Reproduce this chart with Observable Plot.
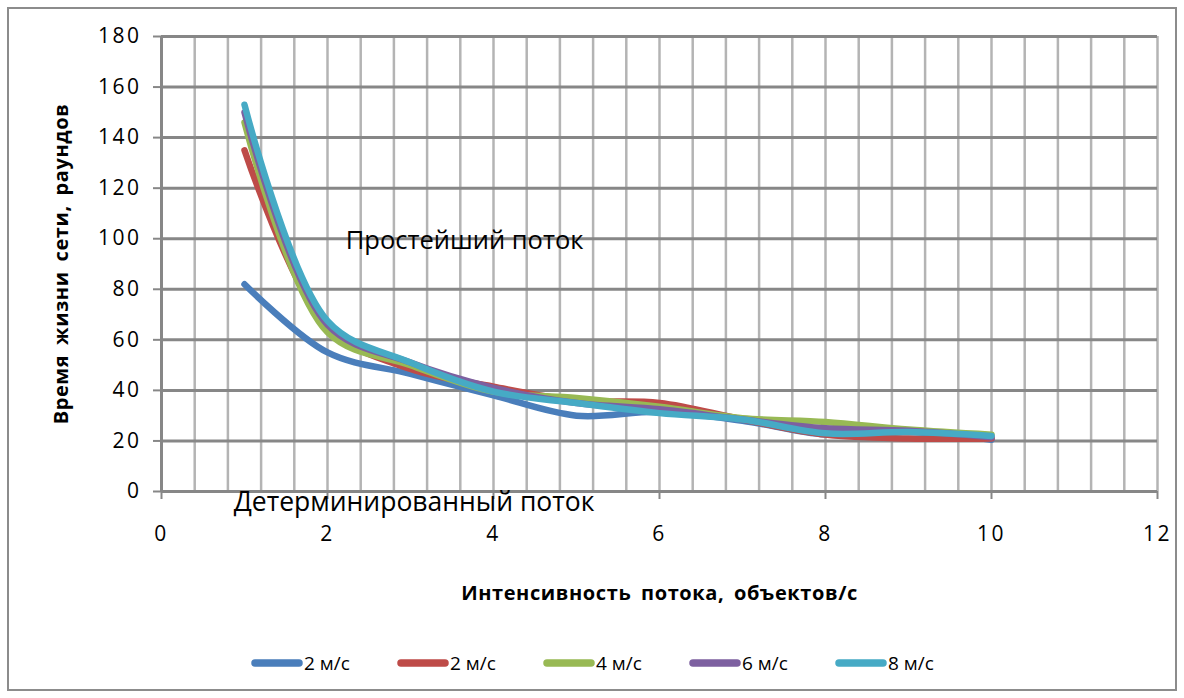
<!DOCTYPE html>
<html><head><meta charset="utf-8">
<script src="https://cdn.jsdelivr.net/npm/d3@7"></script>
<script src="https://cdn.jsdelivr.net/npm/@observablehq/plot@0.6"></script>
<style>
body{margin:0;background:#fff;}
#wrap{position:relative;width:1184px;height:698px;overflow:hidden;background:#fff;font-family:"Open Sans",sans-serif;}
#frame{position:absolute;left:7px;top:7px;width:1170px;height:684px;border:2px solid #8c8c8c;box-sizing:border-box;}
#chart{position:absolute;left:0;top:0;}
#legend{position:absolute;top:650px;left:251px;display:flex;align-items:center;font-size:19px;color:#000;}
.item{display:flex;align-items:center;width:146px;}
.item svg{display:block;margin-right:1px;}
</style></head><body>
<div id="wrap"><div id="frame"></div><div id="chart"></div><div id="legend"></div></div>
<script>
// ---- data ----
const xValues = [1, 2, 3, 4, 5, 6, 7, 8, 9, 10];
const seriesKeys = ["s1", "s2", "s3", "s4", "s5"];
const seriesNames = ["2 м/с", "2 м/с", "4 м/с", "6 м/с", "8 м/с"];
const seriesColors = ["#4a7ebb", "#be4b48", "#98b954", "#7d60a0", "#46aac5"];
const s1 = [82, 55, 46.5, 38, 30, 31.5, 28, 22.5, 23.5, 20.5];
const s2 = [135, 65, 48.5, 41.5, 36, 35, 28.5, 22.5, 21, 21];
const s3 = [146, 63, 50, 39.5, 37, 33.5, 29, 27.5, 24.5, 22.5];
const s4 = [150, 66, 51, 41, 35, 32.5, 28.5, 25, 24, 21.5];
const s5 = [153, 67.5, 51, 39.5, 35, 31, 28.5, 23, 23.5, 22];
const xTicks = [0, 2, 4, 6, 8, 10, 12];
const yTicks = [0, 20, 40, 60, 80, 100, 120, 140, 160, 180];
const xMinorStep = 0.4;
const annotations = [
  {x: 2.22, y: 99.3, text: "Простейший поток", size: 25.5},
  {x: 0.87, y: -4.3, text: "Детерминированный поток", size: 26.5}
];
const xLabel = "Интенсивность потока, объектов/с";
const yLabel = "Время жизни сети, раундов";

// ---- build table ----
const allSeries = [s1, s2, s3, s4, s5];
const rows = [];
allSeries.forEach((s, i) => s.forEach((v, j) => rows.push({x: xValues[j], y: v, key: seriesKeys[i]})));
const xMinor = d3.range(0, 12 + 1e-9, xMinorStep);

const chart = Plot.plot({
  width: 1184,
  height: 620,
  marginLeft: 161,
  marginRight: 27,
  marginTop: 36,
  marginBottom: 129,
  style: {fontFamily: "'Open Sans', sans-serif", fontSize: "20px", background: "transparent", color: "#000"},
  x: {domain: [0, 12]},
  y: {domain: [0, 180]},
  color: {domain: seriesKeys, range: seriesColors},
  marks: [
    Plot.gridX(xMinor, {stroke: "#b4b4b4", strokeOpacity: 1, strokeWidth: 2.5}),
    Plot.gridY(yTicks, {stroke: "#878787", strokeOpacity: 1, strokeWidth: 3}),
    Plot.ruleX([0], {stroke: "#878787", strokeWidth: 3}),
    Plot.ruleY([0], {stroke: "#878787", strokeWidth: 3}),
    Plot.axisX(xTicks, {tickSize: 8, tickPadding: 27, stroke: "#878787", strokeWidth: 2, fill: "#000", fontSize: 21,
      label: xLabel, labelAnchor: "center", labelArrow: "none", labelOffset: 108}),
    Plot.axisY(yTicks, {tickSize: 8, tickPadding: 12, stroke: "#878787", strokeWidth: 2, fill: "#000", fontSize: 21,
      label: yLabel, labelAnchor: "center", labelArrow: "none", labelOffset: 108}),
    Plot.line(rows, {x: "x", y: "y", z: "key", stroke: "key", strokeWidth: 6.5,
      strokeLinecap: "round", strokeLinejoin: "round", curve: "catmull-rom"}),
    Plot.text(annotations, {x: "x", y: "y", text: "text", textAnchor: "start", fontSize: "size", fill: "#000", clip: false})
  ]
});
document.getElementById("chart").appendChild(chart);

// tick label size / spacing
chart.querySelectorAll('g[aria-label="x-axis tick label"], g[aria-label="y-axis tick label"]').forEach(g => {
  g.style.fontSize = "21px";
  g.style.letterSpacing = "2.5px";
});
// bold axis titles
chart.querySelectorAll('g[aria-label="x-axis label"] text, g[aria-label="y-axis label"] text').forEach(t => {
  t.style.fontWeight = "bold";
  t.style.fontSize = "20px";
  t.style.letterSpacing = "0.6px";
  t.style.wordSpacing = "4px";
});

// ---- legend ----
const legend = document.getElementById("legend");
seriesKeys.forEach((k, i) => {
  const item = document.createElement("div");
  item.className = "item";
  const svg = d3.create("svg").attr("width", 52).attr("height", 12);
  svg.append("line").attr("x1", 4).attr("x2", 48).attr("y1", 6).attr("y2", 6)
    .attr("stroke", seriesColors[i]).attr("stroke-width", 7.5).attr("stroke-linecap", "round");
  item.appendChild(svg.node());
  const span = document.createElement("span");
  span.textContent = seriesNames[i];
  item.appendChild(span);
  legend.appendChild(item);
});
</script>
</body></html>
